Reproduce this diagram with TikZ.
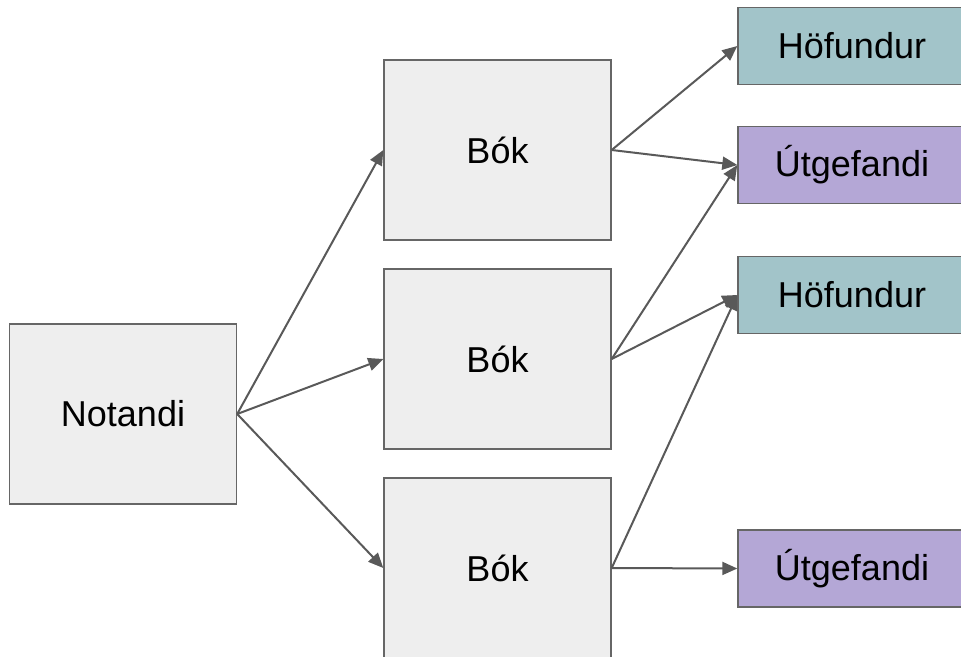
\documentclass[tikz,border=0pt]{standalone}
\usepackage{fontspec}
\setmainfont{Liberation Sans}
\usepackage{tikz}
\usetikzlibrary{arrows.meta}

\definecolor{boxgray}{HTML}{EEEEEE}
\definecolor{edgegray}{HTML}{666666}
\definecolor{arrgray}{HTML}{595959}
\definecolor{hofteal}{HTML}{A2C4C9}
\definecolor{utgpurple}{HTML}{B4A7D6}

\tikzset{
	box/.style={draw=edgegray, line width=1.4pt, fill=boxgray, inner sep=0pt,
		minimum width=227pt, minimum height=180pt, font=\fontsize{36}{40}\selectfont},
	small/.style={box, minimum width=228pt, minimum height=77pt},
	hof/.style={small, fill=hofteal},
	utg/.style={small, fill=utgpurple},
	arr/.style={draw=arrgray, line width=2pt, -{Triangle[length=15pt, width=13pt]}}
}

\begin{document}
\begin{tikzpicture}[x=1pt,y=1pt]
\useasboundingbox (0,0) rectangle (961,-656);
\clip (0,0) rectangle (961,-656);
	\node[box] (notandi) at (123,-414) {Notandi};
	\node[box] (bok1) at (497.5,-150) {Bók};
	\node[box] (bok2) at (497.5,-359) {Bók};
	\node[box] (bok3) at (497.5,-568) {Bók};
	\node[hof] (hof1) at (852,-46) {Höfundur};
	\node[utg] (utg1) at (852,-165) {Útgefandi};
	\node[hof] (hof2) at (852,-295) {Höfundur};
	\node[utg] (utg2) at (852,-568.5) {Útgefandi};
	\draw[arr] (notandi.east) -- (bok1.west);
	\draw[arr] (notandi.east) -- (bok2.west);
	\draw[arr] (notandi.east) -- (bok3.west);
	\draw[arr] (bok1.east) -- (hof1.west);
	\draw[arr] (bok1.east) -- (utg1.west);
	\draw[arr] (bok2.east) -- (utg1.west);
	\draw[arr] (bok2.east) -- (hof2.west);
	\draw[arr] (bok3.east) -- (hof2.west);
	\draw[arr] (bok3.east) -- (utg2.west);
\end{tikzpicture}
\end{document}
